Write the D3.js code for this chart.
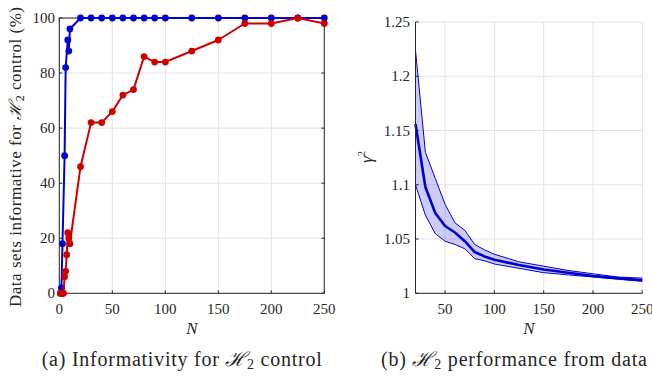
<!DOCTYPE html>
<html>
<head>
<meta charset="utf-8">
<script src="https://cdn.jsdelivr.net/npm/d3@7"></script>
<style>
  body { margin: 0; background: #fff; }
  svg text { fill: #262626; }
</style>
</head>
<body>
<svg id="chart" width="652" height="379" font-family="Liberation Serif, DejaVu Serif, serif"></svg>
<script>
// (a) informativity data, % of data sets
var blueN = [1, 2, 3, 5, 6, 8, 9, 10, 20, 30, 40, 50, 60, 70, 80, 90, 100, 125, 150, 175, 200, 225, 250];
var blueVals = [0, 2, 18, 50, 82, 92, 88, 96, 100, 100, 100, 100, 100, 100, 100, 100, 100, 100, 100, 100, 100, 100, 100];
var redN = [1, 2, 3, 4, 5, 6, 7, 8, 9, 10, 20, 30, 40, 50, 60, 70, 80, 90, 100, 125, 150, 175, 200, 225, 250];
var redVals = [0, 0, 0, 0, 6, 8, 14, 22, 20, 18, 46, 62, 62, 66, 72, 74, 86, 84, 84, 88, 92, 98, 98, 100, 98];
var xTicksA = [0, 50, 100, 150, 200, 250];
var yTicksA = [0, 20, 40, 60, 80, 100];

// (b) gamma^2 performance
var perfN = [20, 30, 40, 50, 60, 70, 80, 90, 100, 125, 150, 175, 200, 225, 250];
var perfMean = [1.156, 1.098, 1.074, 1.062, 1.056, 1.048, 1.038, 1.034, 1.031, 1.026, 1.022, 1.019, 1.016, 1.014, 1.012];
var perfUpper = [1.224, 1.13, 1.106, 1.082, 1.065, 1.058, 1.045, 1.04, 1.036, 1.029, 1.025, 1.021, 1.018, 1.015, 1.014];
var perfLower = [1.10, 1.072, 1.055, 1.048, 1.045, 1.041, 1.032, 1.03, 1.027, 1.023, 1.019, 1.017, 1.015, 1.013, 1.011];
var xTicksB = [50, 100, 150, 200, 250];
var yTicksB = [1, 1.05, 1.1, 1.15, 1.2, 1.25];

var svg = d3.select('#chart');
var gridColor = '#e3e3e3';
var axisColor = '#262626';
var blue = '#0000d4';
var red = '#d00000';
var tickFont = 15;

// stretch a label to the width it has in the reference
function fitWidth(sel, w) {
  sel.attr('textLength', w).attr('lengthAdjust', 'spacing');
}

// ---------- panel (a) ----------
var xa = d3.scaleLinear().domain([0, 250]).range([59.3, 324.3]);
var ya = d3.scaleLinear().domain([0, 100]).range([293.3, 18]);
var ga = svg.append('g');

ga.selectAll('.vg').data(xTicksA).enter().append('line')
  .attr('x1', d => xa(d)).attr('x2', d => xa(d))
  .attr('y1', ya(0)).attr('y2', ya(100))
  .attr('stroke', gridColor).attr('stroke-width', 1);
ga.selectAll('.hg').data(yTicksA).enter().append('line')
  .attr('x1', xa(0)).attr('x2', xa(250))
  .attr('y1', d => ya(d)).attr('y2', d => ya(d))
  .attr('stroke', gridColor).attr('stroke-width', 1);

// box
ga.append('rect')
  .attr('x', xa(0)).attr('y', ya(100))
  .attr('width', xa(250) - xa(0)).attr('height', ya(0) - ya(100))
  .attr('fill', 'none').attr('stroke', axisColor).attr('stroke-width', 1);

// inward ticks
var tl = 3;
xTicksA.forEach(function(t) {
  ga.append('line').attr('x1', xa(t)).attr('x2', xa(t)).attr('y1', ya(0)).attr('y2', ya(0) - tl).attr('stroke', axisColor);
  ga.append('line').attr('x1', xa(t)).attr('x2', xa(t)).attr('y1', ya(100)).attr('y2', ya(100) + tl).attr('stroke', axisColor);
});
yTicksA.forEach(function(t) {
  ga.append('line').attr('x1', xa(0)).attr('x2', xa(0) + tl).attr('y1', ya(t)).attr('y2', ya(t)).attr('stroke', axisColor);
  ga.append('line').attr('x1', xa(250)).attr('x2', xa(250) - tl).attr('y1', ya(t)).attr('y2', ya(t)).attr('stroke', axisColor);
});

ga.selectAll('.xl').data(xTicksA).enter().append('text')
  .attr('x', d => xa(d)).attr('y', 313.5)
  .attr('text-anchor', 'middle').attr('font-size', tickFont)
  .text(d => d);
ga.selectAll('.yl').data(yTicksA).enter().append('text')
  .attr('x', 55).attr('y', d => ya(d) + 5)
  .attr('text-anchor', 'end').attr('font-size', tickFont)
  .text(d => d);

ga.append('text').attr('x', 191.8).attr('y', 334)
  .attr('text-anchor', 'middle').attr('font-size', 17).attr('font-style', 'italic')
  .text('N');

var ylab = ga.append('text')
  .attr('transform', 'translate(21,157) rotate(-90)')
  .attr('text-anchor', 'middle').attr('font-size', 17);
ylab.append('tspan').text('Data sets informative for ');
ylab.append('tspan').attr('font-style', 'italic').text('\u210B');
ylab.append('tspan').attr('font-size', 12).attr('dy', 3).text('2');
ylab.append('tspan').attr('dy', -3).text(' control (%)');
fitWidth(ylab, 300);

var lineA = d3.line().x(d => xa(d[0])).y(d => ya(d[1]));
function drawSeries(ns, vals, color) {
  var pts = ns.map((n, i) => [n, vals[i]]);
  ga.append('path').datum(pts).attr('d', lineA)
    .attr('fill', 'none').attr('stroke', color).attr('stroke-width', 2)
    .attr('stroke-linejoin', 'round');
  ga.selectAll(null).data(pts).enter().append('circle')
    .attr('cx', d => xa(d[0])).attr('cy', d => ya(d[1]))
    .attr('r', 3.4).attr('fill', color);
}
drawSeries(blueN, blueVals, blue);
drawSeries(redN, redVals, red);

var capA = ga.append('text').attr('x', 181.7).attr('y', 366)
  .attr('text-anchor', 'middle').attr('font-size', 20);
capA.append('tspan').text('(a) Informativity for ');
capA.append('tspan').attr('font-style', 'italic').text('\u210B');
capA.append('tspan').attr('font-size', 14).attr('dy', 3).text('2');
capA.append('tspan').attr('dy', -3).text(' control');
fitWidth(capA, 280);

// ---------- panel (b) ----------
var xb = d3.scaleLinear().domain([20, 250]).range([415.5, 642.3]);
var yb = d3.scaleLinear().domain([1, 1.25]).range([293.3, 22]);
var gb = svg.append('g');

gb.selectAll('.vg').data(xTicksB).enter().append('line')
  .attr('x1', d => xb(d)).attr('x2', d => xb(d))
  .attr('y1', yb(1)).attr('y2', yb(1.25))
  .attr('stroke', gridColor).attr('stroke-width', 1);
gb.selectAll('.hg').data(yTicksB).enter().append('line')
  .attr('x1', xb(20)).attr('x2', xb(250))
  .attr('y1', d => yb(d)).attr('y2', d => yb(d))
  .attr('stroke', gridColor).attr('stroke-width', 1);

var band = d3.area()
  .x((d, i) => xb(perfN[i]))
  .y0((d, i) => yb(perfLower[i]))
  .y1((d, i) => yb(perfUpper[i]));
gb.append('path').datum(perfN).attr('d', band)
  .attr('fill', 'rgba(0,0,212,0.2)').attr('stroke', 'none');

var lineB = d3.line().x(d => xb(d[0])).y(d => yb(d[1]));
[perfUpper, perfLower].forEach(function(arr) {
  gb.append('path').datum(perfN.map((n, i) => [n, arr[i]])).attr('d', lineB)
    .attr('fill', 'none').attr('stroke', blue).attr('stroke-width', 1);
});
gb.append('path').datum(perfN.map((n, i) => [n, perfMean[i]])).attr('d', lineB)
  .attr('fill', 'none').attr('stroke', blue).attr('stroke-width', 2.6)
  .attr('stroke-linejoin', 'round');

// axes (left and bottom only)
gb.append('line').attr('x1', xb(20)).attr('x2', xb(20)).attr('y1', yb(1)).attr('y2', yb(1.25)).attr('stroke', axisColor);
gb.append('line').attr('x1', xb(20)).attr('x2', xb(250)).attr('y1', yb(1)).attr('y2', yb(1)).attr('stroke', axisColor);
xTicksB.forEach(function(t) {
  gb.append('line').attr('x1', xb(t)).attr('x2', xb(t)).attr('y1', yb(1)).attr('y2', yb(1) - tl).attr('stroke', axisColor);
});
yTicksB.forEach(function(t) {
  gb.append('line').attr('x1', xb(20)).attr('x2', xb(20) + tl).attr('y1', yb(t)).attr('y2', yb(t)).attr('stroke', axisColor);
});

gb.selectAll('.xl').data(xTicksB).enter().append('text')
  .attr('x', d => xb(d)).attr('y', 313.5)
  .attr('text-anchor', 'middle').attr('font-size', tickFont)
  .text(d => d);
gb.selectAll('.yl').data(yTicksB).enter().append('text')
  .attr('x', 410).attr('y', d => yb(d) + 5)
  .attr('text-anchor', 'end').attr('font-size', tickFont)
  .text(d => d3.format('')(d));

gb.append('text').attr('x', 529).attr('y', 334)
  .attr('text-anchor', 'middle').attr('font-size', 17).attr('font-style', 'italic')
  .text('N');

var glab = gb.append('text')
  .attr('transform', 'translate(372,157) rotate(-90)')
  .attr('text-anchor', 'middle').attr('font-size', 17);
glab.append('tspan').attr('font-style', 'italic').text('\u03B3');
glab.append('tspan').attr('font-size', 11).attr('dy', -7).text('2');

var capB = gb.append('text').attr('x', 514).attr('y', 366)
  .attr('text-anchor', 'middle').attr('font-size', 20);
capB.append('tspan').text('(b) ');
capB.append('tspan').attr('font-style', 'italic').text('\u210B');
capB.append('tspan').attr('font-size', 14).attr('dy', 3).text('2');
capB.append('tspan').attr('dy', -3).text(' performance from data');
fitWidth(capB, 266);
</script>
</body>
</html>
